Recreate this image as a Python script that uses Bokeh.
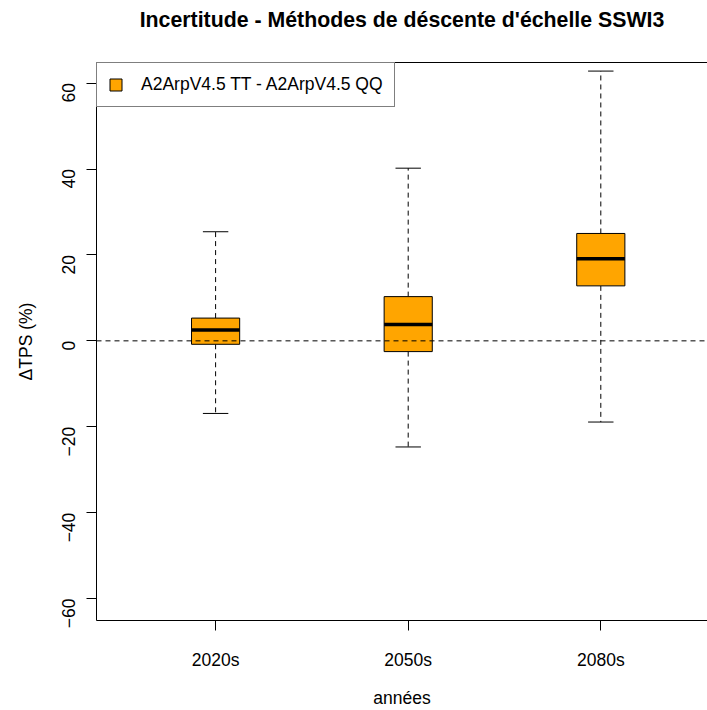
import math
from bokeh.plotting import figure
from bokeh.models import (Range1d, FixedTicker, LinearAxis, Span, Legend,
                          LegendItem, ColumnDataSource)
from bokeh.embed import file_html
from bokeh.resources import INLINE

# ---- data ----
categories = ["2020s", "2050s", "2080s"]
whisker_low = [-16.9, -24.7, -18.9]
q1 = [-0.8, -2.5, 12.8]
median = [2.5, 3.8, 19.1]
q3 = [5.3, 10.3, 25.0]
whisker_high = [25.4, 40.2, 62.8]
y_ticks = [-60, -40, -20, 0, 20, 40, 60]
series_label = "A2ArpV4.5 TT - A2ArpV4.5 QQ"
title_text = "Incertitude - Méthodes de déscente d'échelle SSWI3"
x_label = "années"
y_label = "ΔTPS (%)"

FONT = "Liberation Sans"
FS = "17.5px"
BOX_W = 0.25
CAP_HALF = 0.066

xs = [i + 1 for i in range(len(categories))]
src = ColumnDataSource(dict(
    x=xs,
    x0=[x - BOX_W / 2 for x in xs],
    x1=[x + BOX_W / 2 for x in xs],
    cx0=[x - CAP_HALF for x in xs],
    cx1=[x + CAP_HALF for x in xs],
    lo=whisker_low, q1=q1, med=median, q3=q3, hi=whisker_high,
))

p = figure(width=707, height=710,
           x_range=Range1d(0.3816, 3.554), y_range=Range1d(-65.1, 64.8),
           output_backend="svg", toolbar_location=None,
           min_border_left=96, min_border_right=0,
           min_border_top=62, min_border_bottom=88)
p.outline_line_color = None
p.xgrid.visible = False
p.ygrid.visible = False
p.background_fill_color = "white"
p.border_fill_color = "white"

# y axis
ya = p.yaxis[0]
ya.ticker = FixedTicker(ticks=y_ticks)
ya.minor_tick_line_color = None
ya.major_tick_in = 0
ya.major_tick_out = 10
ya.major_label_orientation = math.pi / 2
ya.major_label_standoff = 18
ya.major_label_text_font = FONT
ya.major_label_text_font_size = FS
ya.major_label_text_color = "black"
ya.axis_label = y_label
ya.axis_label_text_font = FONT
ya.axis_label_text_font_size = FS
ya.axis_label_text_font_style = "normal"
ya.axis_label_text_color = "black"
ya.axis_label_standoff = 17
ya.axis_line_color = "black"
ya.major_tick_line_color = "black"

# x axis
xa = p.xaxis[0]
xa.ticker = FixedTicker(ticks=xs)
xa.major_label_overrides = {x: c for x, c in zip(xs, categories)}
xa.minor_tick_line_color = None
xa.major_tick_in = 0
xa.major_tick_out = 10
xa.major_label_standoff = 19
xa.major_label_text_font = FONT
xa.major_label_text_font_size = FS
xa.major_label_text_color = "black"
xa.axis_label = x_label
xa.axis_label_text_font = FONT
xa.axis_label_text_font_size = FS
xa.axis_label_text_font_style = "normal"
xa.axis_label_text_color = "black"
xa.axis_label_standoff = 15
xa.axis_line_color = "black"
xa.major_tick_line_color = "black"

# top frame line, carrying the chart title
top = LinearAxis(ticker=FixedTicker(ticks=[]), major_tick_out=0, major_tick_in=0,
                 minor_tick_line_color=None, major_label_text_font_size="0px",
                 axis_line_color="black",
                 axis_label=title_text, axis_label_text_font=FONT,
                 axis_label_text_font_size="21.3px",
                 axis_label_text_font_style="bold",
                 axis_label_text_color="black", axis_label_standoff=31)
p.add_layout(top, "above")

# whiskers
p.segment(x0="x", y0="q3", x1="x", y1="hi", source=src, line_color="black",
          line_width=1, line_dash="5 4")
p.segment(x0="x", y0="q1", x1="x", y1="lo", source=src, line_color="black",
          line_width=1, line_dash="5 4")
# caps
p.segment(x0="cx0", y0="hi", x1="cx1", y1="hi", source=src, line_color="black", line_width=1)
p.segment(x0="cx0", y0="lo", x1="cx1", y1="lo", source=src, line_color="black", line_width=1)
# boxes
boxes = p.vbar(x="x", width=BOX_W, bottom="q1", top="q3", source=src,
               fill_color="#FFA500", line_color="black", line_width=1)
# medians
p.segment(x0="x0", y0="med", x1="x1", y1="med", source=src, line_color="black",
          line_width=3.5, line_cap="butt")

# zero line
p.add_layout(Span(location=0, dimension="width", line_color="black",
                  line_width=1, line_dash="5 4"))

legend = Legend(items=[LegendItem(label=series_label, renderers=[boxes])],
                location="top_left", margin=0, padding=11,
                glyph_width=15, glyph_height=15, label_standoff=18,
                label_text_font=FONT, label_text_font_size=FS,
                label_text_color="black", border_line_color="black",
                border_line_width=1, background_fill_color="white",
                background_fill_alpha=1.0)
p.add_layout(legend)

open("out.html", "w").write(file_html(p, INLINE))
